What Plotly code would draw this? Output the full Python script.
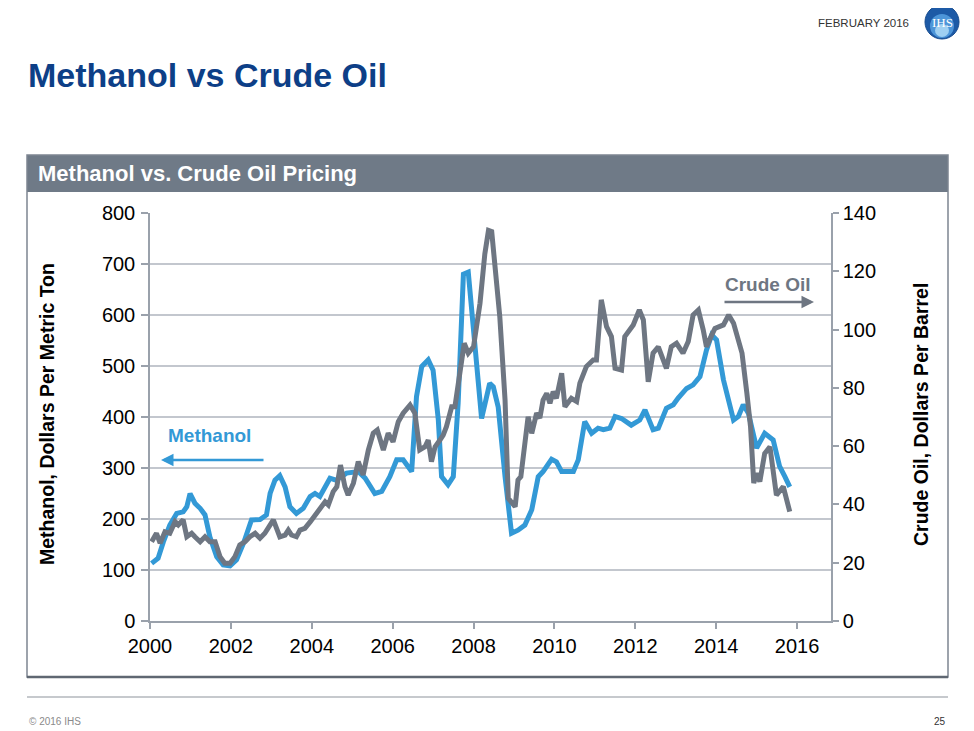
import plotly.graph_objects as go

# ---------------- data ----------------
meth_x = [2000.04, 2000.2, 2000.33, 2000.49, 2000.66, 2000.82, 2000.91, 2000.99, 2001.11, 2001.24,
          2001.36, 2001.48, 2001.65, 2001.81, 2001.98, 2002.14, 2002.31, 2002.43, 2002.51, 2002.72,
          2002.88, 2002.97, 2003.09, 2003.21, 2003.34, 2003.46, 2003.62, 2003.79, 2003.96, 2004.08,
          2004.2, 2004.45, 2004.6, 2004.86, 2005.15, 2005.32, 2005.56, 2005.73, 2005.93, 2006.1,
          2006.26, 2006.47, 2006.59, 2006.72, 2006.88, 2007.0, 2007.13, 2007.21, 2007.37, 2007.5,
          2007.62, 2007.75, 2007.87, 2008.2, 2008.4, 2008.49, 2008.61, 2008.78, 2008.94, 2009.1,
          2009.27, 2009.44, 2009.6, 2009.72, 2009.93, 2010.05, 2010.18, 2010.47, 2010.59, 2010.75,
          2010.92, 2011.08, 2011.21, 2011.37, 2011.5, 2011.66, 2011.9, 2012.11, 2012.24, 2012.44,
          2012.57, 2012.77, 2012.94, 2013.06, 2013.27, 2013.43, 2013.6, 2013.76, 2013.89, 2014.01,
          2014.18, 2014.43, 2014.55, 2014.67, 2014.8, 2015.0, 2015.2, 2015.41, 2015.57, 2015.7,
          2015.82]
meth_y = [113, 123, 155, 188, 211, 214, 224, 250, 231, 221,
          208, 165, 126, 110, 108, 120, 152, 178, 198, 199,
          208, 250, 276, 285, 263, 224, 211, 221, 244, 250,
          244, 280, 276, 290, 293, 280, 250, 254, 283, 316,
          316, 293, 440, 499, 512, 492, 394, 283, 267, 283,
          427, 680, 684, 397, 466, 459, 420, 283, 172, 178,
          188, 218, 283, 293, 317, 312, 293, 293, 316, 391,
          368, 378, 375, 378, 401, 397, 384, 394, 414, 375,
          378, 417, 424, 437, 456, 463, 479, 531, 561, 551,
          473, 394, 401, 424, 407, 339, 368, 355, 303, 283,
          263]

crude_x = [2000.04, 2000.16, 2000.25, 2000.37, 2000.49, 2000.62, 2000.7, 2000.82, 2000.91, 2001.03,
           2001.11, 2001.24, 2001.36, 2001.48, 2001.61, 2001.73, 2001.85, 2001.98, 2002.1, 2002.22,
           2002.35, 2002.47, 2002.6, 2002.72, 2002.84, 2002.97, 2003.05, 2003.13, 2003.21, 2003.34,
           2003.42, 2003.5, 2003.62, 2003.71, 2003.83, 2003.96, 2004.16, 2004.33, 2004.41, 2004.53,
           2004.62, 2004.71, 2004.82, 2004.9, 2005.03, 2005.15, 2005.27, 2005.4, 2005.52, 2005.62,
           2005.77, 2005.89, 2006.01, 2006.14, 2006.26, 2006.43, 2006.55, 2006.67, 2006.8, 2006.88,
           2006.96, 2007.05, 2007.17, 2007.25, 2007.33, 2007.46, 2007.54, 2007.66, 2007.77, 2007.87,
           2008.0, 2008.16, 2008.28, 2008.37, 2008.45, 2008.65, 2008.78, 2008.86, 2009.03, 2009.1,
           2009.17, 2009.35, 2009.44, 2009.56, 2009.64, 2009.72, 2009.81, 2009.89, 2009.97, 2010.05,
           2010.18, 2010.26, 2010.42, 2010.55, 2010.63, 2010.79, 2010.96, 2011.04, 2011.16, 2011.29,
           2011.41, 2011.5, 2011.66, 2011.74, 2011.95, 2012.1, 2012.2, 2012.32, 2012.44, 2012.57,
           2012.77, 2012.89, 2013.02, 2013.18, 2013.31, 2013.43, 2013.56, 2013.68, 2013.76, 2013.89,
           2013.97, 2014.18, 2014.31, 2014.43, 2014.55, 2014.64, 2014.76, 2014.85, 2014.93, 2015.0,
           2015.08, 2015.2, 2015.33, 2015.49, 2015.66, 2015.82]
crude_y = [27.2, 30.1, 26.7, 30.6, 30.1, 34.1, 33.0, 34.7, 28.9, 30.1,
           28.9, 27.2, 28.9, 27.2, 27.2, 22.1, 19.8, 19.8, 22.1, 26.1,
           27.2, 28.9, 30.1, 28.4, 30.1, 33.0, 34.7, 31.8, 28.9, 29.5,
           31.2, 29.5, 28.9, 31.2, 31.8, 34.0, 38.1, 40.9, 39.8, 44.4,
           46.1, 53.5, 46.1, 43.2, 47.3, 54.7, 50.1, 58.7, 64.4, 65.5,
           58.7, 64.4, 61.5, 68.4, 71.3, 74.1, 71.3, 58.7, 59.8, 62.1,
           54.7, 59.8, 62.1, 63.8, 66.7, 73.5, 73.5, 86.1, 95.3, 91.9,
           94.1, 109.0, 126.0, 134.0, 133.6, 104.4, 75.8, 42.1, 39.2, 48.4,
           49.5, 70.1, 64.4, 71.3, 69.6, 75.8, 78.1, 74.7, 78.7, 76.4,
           85.0, 73.5, 76.4, 75.3, 81.6, 87.3, 89.6, 89.6, 110.2, 101.0,
           97.6, 86.7, 86.1, 97.6, 101.6, 106.7, 103.3, 82.1, 91.9, 94.1,
           86.7, 94.1, 95.3, 91.9, 95.9, 105.0, 106.7, 99.9, 94.1, 98.1,
           100.4, 101.6, 105.0, 102.2, 95.3, 91.9, 78.1, 66.7, 47.3, 50.7,
           47.8, 57.5, 59.8, 43.2, 46.1, 37.5]

x_ticks = [2000, 2002, 2004, 2006, 2008, 2010, 2012, 2014, 2016]
left_ticks = [0, 100, 200, 300, 400, 500, 600, 700, 800]
right_ticks = [0, 20, 40, 60, 80, 100, 120, 140]

# ---------------- styling ----------------
OFF = 8                                   # page body margin
W, H = 974 - OFF, 731 - OFF
L, R, T, B = 150, 831, 213, 621          # plot area in window pixels
BLUE = "#3399d6"
GRAY = "#6e7682"
GRID = "#c3c7ce"
AXIS = "#9aa1ab"
FONT = "Liberation Sans, Arial, Helvetica, sans-serif"


def px(xp):
    return (xp - L) / (R - L)


def py(yp):
    return (B - yp) / (B - T)


fig = go.Figure()
fig.add_trace(go.Scatter(x=meth_x, y=meth_y, mode="lines", name="Methanol",
                         line=dict(color=BLUE, width=5), yaxis="y"))
fig.add_trace(go.Scatter(x=crude_x, y=crude_y, mode="lines", name="Crude Oil",
                         line=dict(color=GRAY, width=5), yaxis="y2"))

shapes = [
    # header bar
    dict(type="rect", xref="paper", yref="paper", x0=px(27), x1=px(948), y0=py(192), y1=py(155),
         fillcolor="#6f7a87", line=dict(width=0), layer="below"),
    # panel border
    dict(type="rect", xref="paper", yref="paper", x0=px(27), x1=px(948), y0=py(677), y1=py(155),
         fillcolor="rgba(0,0,0,0)", line=dict(color="#7d8591", width=1.5), layer="below"),
    dict(type="line", xref="paper", yref="paper", x0=px(27), x1=px(948), y0=py(677), y1=py(677),
         line=dict(color="#5f6772", width=2.5)),
    # footer line
    dict(type="line", xref="paper", yref="paper", x0=px(27), x1=px(948), y0=py(697), y1=py(697),
         line=dict(color="#c6c9cd", width=2)),
    # logo sphere
    dict(type="circle", xref="paper", yref="paper", x0=px(925), x1=px(959), y0=py(39), y1=py(5),
         fillcolor="#1d5aa6", line=dict(color="#174c8f", width=1)),
    dict(type="circle", xref="paper", yref="paper", x0=px(930), x1=px(954), y0=py(38), y1=py(14),
         fillcolor="#4d95d8", line=dict(width=0)),
    dict(type="circle", xref="paper", yref="paper", x0=px(935), x1=px(949), y0=py(37), y1=py(24),
         fillcolor="#9fd0f2", line=dict(width=0)),
]

annotations = [
    dict(text="<b>Methanol vs Crude Oil</b>", xref="paper", yref="paper", x=px(26), y=py(75),
         xanchor="left", yanchor="middle", showarrow=False,
         font=dict(family=FONT, size=34, color="#0d3f87")),
    dict(text="FEBRUARY 2016", xref="paper", yref="paper", x=px(911), y=py(23),
         xanchor="right", yanchor="middle", showarrow=False,
         font=dict(family=FONT, size=11.5, color="#333333")),
    dict(text="IHS", xref="paper", yref="paper", x=px(942), y=py(22),
         xanchor="center", yanchor="middle", showarrow=False,
         font=dict(family="Liberation Serif, Times New Roman, serif", size=13, color="white")),
    dict(text="<b>Methanol vs. Crude Oil Pricing</b>", xref="paper", yref="paper", x=px(36), y=py(174),
         xanchor="left", yanchor="middle", showarrow=False,
         font=dict(family=FONT, size=22, color="white")),
    dict(text="© 2016 IHS", xref="paper", yref="paper", x=px(27), y=py(721),
         xanchor="left", yanchor="middle", showarrow=False,
         font=dict(family=FONT, size=10, color="#8a8a8a")),
    dict(text="25", xref="paper", yref="paper", x=px(948), y=py(721),
         xanchor="right", yanchor="middle", showarrow=False,
         font=dict(family=FONT, size=10, color="#333333")),
    # axis titles
    dict(text="<b>Methanol, Dollars Per Metric Ton</b>", xref="paper", yref="paper", x=px(47), y=py(414),
         xanchor="center", yanchor="middle", textangle=-90, showarrow=False,
         font=dict(family=FONT, size=19.5, color="black")),
    dict(text="<b>Crude Oil, Dollars Per Barrel</b>", xref="paper", yref="paper", x=px(921), y=py(415),
         xanchor="center", yanchor="middle", textangle=-90, showarrow=False,
         font=dict(family=FONT, size=19.5, color="black")),
    # series labels and arrows
    dict(text="<b>Methanol</b>", xref="paper", yref="paper", x=px(209), y=py(435),
         xanchor="center", yanchor="middle", showarrow=False,
         font=dict(family=FONT, size=19, color=BLUE)),
    dict(text="", xref="paper", yref="paper", x=px(161), y=py(460), ax=104, ay=0,
         axref="pixel", ayref="pixel", showarrow=True, arrowhead=2, arrowsize=1,
         arrowwidth=2.5, arrowcolor=BLUE),
    dict(text="<b>Crude Oil</b>", xref="paper", yref="paper", x=px(768), y=py(284),
         xanchor="center", yanchor="middle", showarrow=False,
         font=dict(family=FONT, size=19, color=GRAY)),
    dict(text="", xref="paper", yref="paper", x=px(814), y=py(302), ax=-91, ay=0,
         axref="pixel", ayref="pixel", showarrow=True, arrowhead=2, arrowsize=1,
         arrowwidth=2.5, arrowcolor=GRAY),
]

fig.update_layout(
    width=W, height=H,
    margin=dict(l=L - OFF, r=W - (R - OFF), t=T - OFF, b=H - (B - OFF), pad=0),
    paper_bgcolor="white", plot_bgcolor="white",
    showlegend=False,
    font=dict(family=FONT, size=20, color="black"),
    xaxis=dict(range=[2000, 2016.84], tickmode="array", tickvals=x_ticks,
               ticktext=[str(v) for v in x_ticks],
               showgrid=False, zeroline=False, showline=True, linecolor=AXIS, linewidth=1.5,
               ticks="outside", ticklen=6, tickcolor=AXIS, tickwidth=1.5,
               tickfont=dict(family=FONT, size=20, color="black")),
    yaxis=dict(range=[0, 800], tickmode="array", tickvals=left_ticks,
               showgrid=True, gridcolor=GRID, gridwidth=1.5, zeroline=False,
               showline=True, linecolor=AXIS, linewidth=1.5,
               ticks="outside", ticklen=7, tickcolor=AXIS, tickwidth=1.5,
               ticklabelstandoff=2,
               tickfont=dict(family=FONT, size=20, color="black")),
    yaxis2=dict(range=[0, 140], tickmode="array", tickvals=right_ticks, overlaying="y", side="right",
                showgrid=False, zeroline=False, showline=True, linecolor=AXIS, linewidth=1.5,
                ticks="outside", ticklen=6, tickcolor=AXIS, tickwidth=1.5,
                tickfont=dict(family=FONT, size=20, color="black")),
    shapes=shapes,
    annotations=annotations,
)

fig.write_html("out.html")
